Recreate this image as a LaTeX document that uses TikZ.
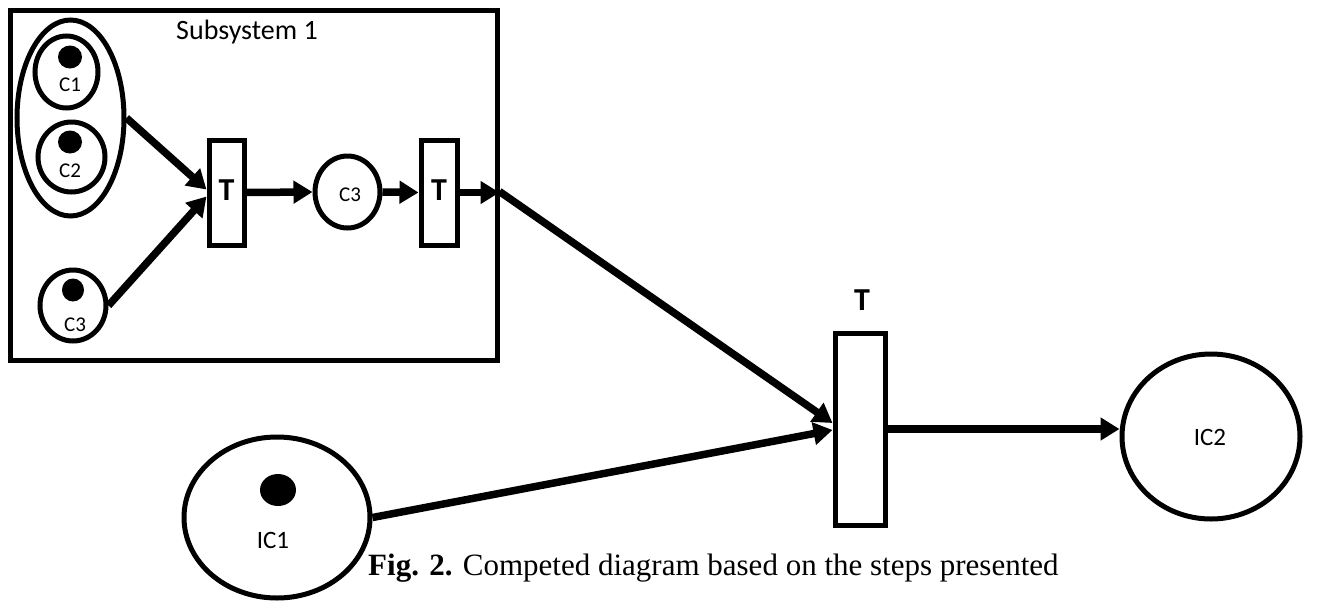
\documentclass[tikz,border=0pt]{standalone}
\usepackage{fontspec}
\setmainfont{Carlito}
\newfontfamily\capfont{Liberation Serif}
\usetikzlibrary{shapes.geometric,arrows.meta}
\begin{document}
\begin{tikzpicture}[x=1pt,y=-1pt,
 place/.style={draw,ellipse,line width=5pt,inner sep=0pt},
 trans/.style={draw,rectangle,line width=5pt,inner sep=0pt},
 token/.style={fill,ellipse,inner sep=0pt},
 arc/.style={line width=7.5pt,-{Triangle[length=19pt,width=22pt]}},
 lab/.style={font=\fontsize{21}{23}\selectfont,inner sep=0pt},
 biglab/.style={font=\fontsize{25}{27}\selectfont,inner sep=0pt},
 tlab/.style={font=\fontsize{32}{34}\selectfont\bfseries,inner sep=0pt}
]
\useasboundingbox (0,0) rectangle (1331,603);
% subsystem frame
\node[draw,line width=5pt,minimum width=487pt,minimum height=350pt,inner sep=0pt] (sub) at (253.5,185) {};
\node[font=\fontsize{28}{30}\selectfont,inner sep=0pt] (subt) at (247,32) {Subsystem 1};
% places
\node[place,minimum width=107pt,minimum height=196pt] (grp) at (70.5,118) {};
\node[place,minimum width=63pt,minimum height=72pt] (c1) at (66.5,72) {};
\node[place,minimum width=67pt,minimum height=70pt] (c2) at (71.5,157) {};
\node[place,minimum width=66pt,minimum height=71pt] (c3a) at (73,305.5) {};
\node[place,minimum width=65pt,minimum height=72pt] (c3b) at (347.5,192) {};
\node[place,minimum width=178pt,minimum height=165pt] (ic2) at (1211,436.5) {};
\node[place,minimum width=186pt,minimum height=161pt] (ic1) at (277,517.5) {};
% tokens
\node[token,minimum width=24pt,minimum height=23pt] (t1) at (70,57) {};
\node[token,minimum width=24pt,minimum height=23pt] (t2) at (70,142) {};
\node[token,minimum width=22pt,minimum height=23pt] (t3) at (73,290) {};
\node[token,minimum width=36pt,minimum height=32pt] (t4) at (278,490) {};
% place labels
\node[lab] (l1) at (70,85) {C1};
\node[lab] (l2) at (70,171) {C2};
\node[lab] (l3) at (75,325) {C3};
\node[lab] (l4) at (350,195) {C3};
\node[biglab] (l5) at (273,540) {IC1};
\node[biglab] (l6) at (1210,437) {IC2};
% transitions
\node[trans,minimum width=35pt,minimum height=105pt] (T1) at (226.5,192.5) {};
\node[trans,minimum width=36pt,minimum height=105pt] (T2) at (439,192.5) {};
\node[trans,minimum width=50pt,minimum height=192pt] (T3) at (860,429) {};
\node[tlab] (T1l) at (226.5,190) {T};
\node[tlab] (T2l) at (439,190) {T};
\node[tlab] (T3l) at (862,300) {T};
% arcs
\coordinate (p) at (T2.east -| sub.east);
\draw[arc] (grp.east) -- ([yshift=3pt]T1.west);
\draw[arc] (c3a.east) -- ([yshift=-4pt]T1.west);
\draw[arc] (T1.east) -- (c3b.west);
\draw[arc] (c3b.east) -- (T2.west);
\draw[arc] (T2.east) -- (p);
\draw[arc] ([yshift=1pt]p) -- ([yshift=6pt]T3.west);
\draw[arc] (ic1.east) -- ([yshift=-1pt]T3.west);
\draw[arc] (T3.east) -- (T3.east -| ic2.west);
% caption
\node[anchor=west,font=\capfont\fontsize{31}{33}\selectfont,inner sep=0pt] (cap) at (368,568) {\textbf{Fig. 2.} Competed diagram based on the steps presented};
\end{tikzpicture}
\end{document}
